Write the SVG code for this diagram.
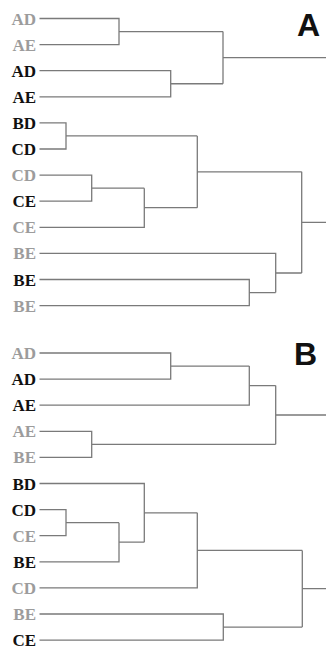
<svg xmlns="http://www.w3.org/2000/svg" width="326" height="649" viewBox="0 0 326 649">
<style>
.lbl{font-family:"Liberation Serif","Times New Roman",serif;font-weight:bold;font-size:17px;text-anchor:end}
.g{fill:#9c9c9c}
.k{fill:#111}
.panel{font-family:"Liberation Sans",Arial,sans-serif;font-weight:bold;font-size:32px;fill:#111}
#connectors path{fill:none;stroke:#7a7a7a;stroke-width:1.3}
</style>
<rect width="326" height="649" fill="#fff"/>
<g id="connectors">
<path d="M39.5,18.5 H119 V44.6 H39.5 M119,31.55 H223 M39.5,70.7 H170.7 V96.8 H39.5 M170.7,83.75 H223 M223,31.55 V83.75 M223,57.65 H326"/>
<path d="M39.5,122.9 H66 V149 H39.5 M66,135.95 H197.3 M39.5,175.1 H91.7 V201.2 H39.5 M91.7,188.15 H144.3 M39.5,227.3 H144.3 V188.15 M144.3,207.7 H197.3 M197.3,135.95 V207.7 M197.3,171.8 H301.7"/>
<path d="M39.5,279.5 H249.3 V305.6 H39.5 M249.3,292.55 H275.7 M39.5,253.4 H275.7 V292.55 M275.7,273 H301.7 M301.7,171.8 V273 M301.7,222.4 H326"/>
<path d="M39.5,353 H170.7 V379.1 H39.5 M170.7,366.05 H249.3 M39.5,405.2 H249.3 V366.05 M249.3,385.6 H275.7 M39.5,431.3 H91.7 V457.4 H39.5 M91.7,444.35 H275.7 M275.7,385.6 V444.35 M275.7,415 H326"/>
<path d="M39.5,509.6 H66 V535.7 H39.5 M66,522.65 H119 M39.5,561.8 H119 V522.65 M119,542.2 H144.3 M39.5,483.5 H144.3 V542.2 M144.3,512.85 H197.3 M39.5,587.9 H197.3 V512.85 M197.3,550.4 H302.3 M39.5,614 H223.3 V640.1 H39.5 M223.3,627.05 H302.3 M302.3,550.4 V627.05 M302.3,588.7 H326"/>
</g>
<g id="panel-A"><text class="panel" x="297" y="36">A</text></g>
<g id="panel-B"><text class="panel" x="294" y="365">B</text></g>
<g id="a1"><text class="lbl g" x="36" y="24.5">AD</text></g>
<g id="a2"><text class="lbl g" x="36" y="50.6">AE</text></g>
<g id="a3"><text class="lbl k" x="36" y="76.7">AD</text></g>
<g id="a4"><text class="lbl k" x="36" y="102.8">AE</text></g>
<g id="a5"><text class="lbl k" x="36" y="128.9">BD</text></g>
<g id="a6"><text class="lbl k" x="36" y="155">CD</text></g>
<g id="a7"><text class="lbl g" x="36" y="181.1">CD</text></g>
<g id="a8"><text class="lbl k" x="36" y="207.2">CE</text></g>
<g id="a9"><text class="lbl g" x="36" y="233.3">CE</text></g>
<g id="a10"><text class="lbl g" x="36" y="259.4">BE</text></g>
<g id="a11"><text class="lbl k" x="36" y="285.5">BE</text></g>
<g id="a12"><text class="lbl g" x="36" y="311.6">BE</text></g>
<g id="b1"><text class="lbl g" x="36" y="359">AD</text></g>
<g id="b2"><text class="lbl k" x="36" y="385.1">AD</text></g>
<g id="b3"><text class="lbl k" x="36" y="411.2">AE</text></g>
<g id="b4"><text class="lbl g" x="36" y="437.3">AE</text></g>
<g id="b5"><text class="lbl g" x="36" y="463.4">BE</text></g>
<g id="b6"><text class="lbl k" x="36" y="489.5">BD</text></g>
<g id="b7"><text class="lbl k" x="36" y="515.6">CD</text></g>
<g id="b8"><text class="lbl g" x="36" y="541.7">CE</text></g>
<g id="b9"><text class="lbl k" x="36" y="567.8">BE</text></g>
<g id="b10"><text class="lbl g" x="36" y="593.9">CD</text></g>
<g id="b11"><text class="lbl g" x="36" y="620">BE</text></g>
<g id="b12"><text class="lbl k" x="36" y="646.1">CE</text></g>
</svg>
